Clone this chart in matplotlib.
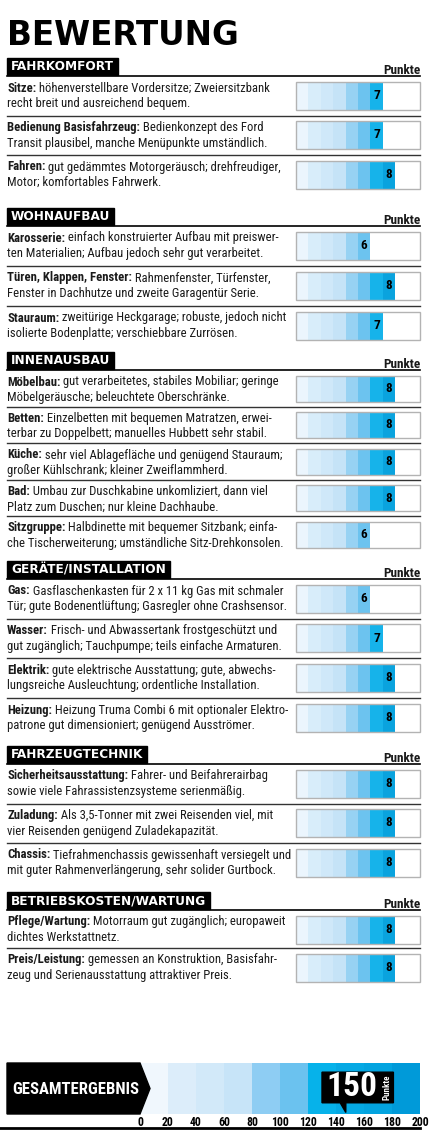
import matplotlib
matplotlib.use("Agg")
from matplotlib import pyplot as plt
from matplotlib import font_manager as fm
from matplotlib.patches import Rectangle, Polygon

# --- data ---
sections = ["FAHRKOMFORT", "WOHNAUFBAU", "INNENAUSBAU", "GERÄTE/INSTALLATION",
            "FAHRZEUGTECHNIK", "BETRIEBSKOSTEN/WARTUNG"]
section_rows = [3, 3, 5, 4, 3, 2]

labels = ["Sitze:", "Bedienung Basisfahrzeug:", "Fahren:",
          "Karosserie:", "Türen, Klappen, Fenster:", "Stauraum:",
          "Möbelbau:", "Betten:", "Küche:", "Bad:", "Sitzgruppe:",
          "Gas:", "Wasser:", "Elektrik:", "Heizung:",
          "Sicherheitsausstattung:", "Zuladung:", "Chassis:",
          "Pflege/Wartung:", "Preis/Leistung:"]

text_line1 = [" höhenverstellbare Vordersitze; Zweiersitzbank",
              " Bedienkonzept des Ford",
              " gut gedämmtes Motorgeräusch; drehfreudiger,",
              " einfach konstruierter Aufbau mit preiswer-",
              " Rahmenfenster, Türfenster,",
              " zweitürige Heckgarage; robuste, jedoch nicht",
              " gut verarbeitetes, stabiles Mobiliar; geringe",
              " Einzelbetten mit bequemen Matratzen, erwei-",
              " sehr viel Ablagefläche und genügend Stauraum;",
              " Umbau zur Duschkabine unkomliziert, dann viel",
              " Halbdinette mit bequemer Sitzbank; einfa-",
              " Gasflaschenkasten für 2 x 11 kg Gas mit schmaler",
              " Frisch- und Abwassertank frostgeschützt und",
              " gute elektrische Ausstattung; gute, abwechs-",
              " Heizung Truma Combi 6 mit optionaler Elektro-",
              " Fahrer- und Beifahrerairbag",
              " Als 3,5-Tonner mit zwei Reisenden viel, mit",
              " Tiefrahmenchassis gewissenhaft versiegelt und",
              " Motorraum gut zugänglich; europaweit",
              " gemessen an Konstruktion, Basisfahr-"]

text_line2 = ["recht breit und ausreichend bequem.",
              "Transit plausibel, manche Menüpunkte umständlich.",
              "Motor; komfortables Fahrwerk.",
              "ten Materialien; Aufbau jedoch sehr gut verarbeitet.",
              "Fenster in Dachhutze und zweite Garagentür Serie.",
              "isolierte Bodenplatte; verschiebbare Zurrösen.",
              "Möbelgeräusche; beleuchtete Oberschränke.",
              "terbar zu Doppelbett; manuelles Hubbett sehr stabil.",
              "großer Kühlschrank; kleiner Zweiflammherd.",
              "Platz zum Duschen; nur kleine Dachhaube.",
              "che Tischerweiterung; umständliche Sitz-Drehkonsolen.",
              "Tür; gute Bodenentlüftung; Gasregler ohne Crashsensor.",
              "gut zugänglich; Tauchpumpe; teils einfache Armaturen.",
              "lungsreiche Ausleuchtung; ordentliche Installation.",
              "patrone gut dimensioniert; genügend Ausströmer.",
              "sowie viele Fahrassistenzsysteme serienmäßig.",
              "vier Reisenden genügend Zuladekapazität.",
              "mit guter Rahmenverlängerung, sehr solider Gurtbock.",
              "dichtes Werkstattnetz.",
              "zeug und Serienausstattung attraktiver Preis."]

scores = [7, 7, 8, 6, 8, 7, 8, 8, 8, 8, 6, 6, 7, 8, 8, 8, 8, 8, 8, 8]
total_score = 150
total_ticks = [0, 20, 40, 60, 80, 100, 120, 140, 160, 180, 200]

seg_colors = ['#ebf5fd', '#d8edfa', '#cfe8f9', '#c5e3f7', '#97d2f3',
              '#6cc3ef', '#16b3ea', '#0aa3de', '#069fdb', '#0398d6']
total_colors = ['#f0f7fd', '#dcedfa', '#d2e9f9', '#c7e4f8', '#8ecdf3',
                '#6bc2ef', '#06b2ea', '#05a9e4', '#03a4e0', '#009ad9']

# --- layout (pixels) ---
section_top = [58, 208, 352, 561, 746, 892]
row_pitch = [39.5, 40, 36.5, 39.7, 39.5, 38]
bar_h = [28, 28, 26, 28, 28, 28]
X0, X1 = 7, 420
BAR_X, SEG_W = 296, 12.4

names = {f.name for f in fm.fontManager.ttflist}
narrow = next((n for n in ['Roboto Condensed', 'Liberation Sans Narrow', 'Open Sans Condensed']
               if n in names), None)
if narrow:
    body = dict(family=narrow)
else:
    body = dict(family='DejaVu Sans', stretch='condensed')
HEAVY = 'DejaVu Sans'
INK = '#1a1a1a'
FS = 9.1

fig = plt.figure(figsize=(4.33, 11.36), dpi=100)
ax = fig.add_axes([0, 0, 1, 1])
ax.set_xlim(0, 433)
ax.set_ylim(1136, 0)
ax.axis('off')
ax.set_zorder(3)
renderer = fig.canvas.get_renderer()

ax.text(7, 45, "BEWERTUNG", fontsize=23.5, family=HEAVY, weight='bold', va='baseline')

k = 0
for s, name in enumerate(sections):
    top = section_top[s]
    t = ax.text(11, top + 8.8, name, color='white', fontsize=8.7, family=HEAVY,
                weight='bold', va='center', zorder=3)
    w = t.get_window_extent(renderer).width
    ax.add_patch(Rectangle((X0, top), w + 8, 17, color='black', zorder=2))
    ax.plot([X0, X1], [top + 17.5] * 2, color='black', lw=1.2)
    ax.text(X1, top + 16, 'Punkte', ha='right', va='baseline', fontsize=9.5,
            weight='bold', color=INK, **body)
    for r in range(section_rows[s]):
        h = bar_h[s]
        bt = top + 23.5 + r * row_pitch[s]
        if r > 0:
            ax.plot([X0, X1], [bt - 5.5] * 2, color='#333333', lw=1)
        lb = ax.text(X0, bt + 6.5, labels[k], fontsize=FS, weight='bold',
                     color=INK, va='center', **body)
        ax.annotate(text_line1[k], xy=(1, 0), xycoords=lb, va='bottom', ha='left',
                    fontsize=FS, color=INK, **body)
        ax.text(X0, bt + 22, text_line2[k], fontsize=FS, color=INK, va='center', **body)

        n = scores[k]
        ax.barh([bt + h / 2] * n, [SEG_W] * n,
                left=[BAR_X + i * SEG_W for i in range(n)],
                height=h, color=seg_colors[:n], lw=0)
        ax.add_patch(Rectangle((BAR_X, bt), 10 * SEG_W, h, fill=False,
                               ec='#b3b3b3', lw=1))
        ax.text(BAR_X + (n - 0.5) * SEG_W, bt + h / 2, str(n), ha='center',
                va='center', fontsize=9.5, weight='bold', color='black', **body)
        k += 1

# --- total ---
tax = fig.add_axes([140 / 433, 1 - 1114 / 1136, 280 / 433, 51 / 1136])
tax.bar(total_ticks[:-1], [1] * 10, width=20, align='edge', color=total_colors, lw=0)
tax.set_xlim(0, 200)
tax.set_ylim(0, 1)
tax.set_yticks([])
tax.set_xticks(total_ticks)
tax.set_xticklabels([str(v) for v in total_ticks], fontsize=8.5, weight='bold', **body)
tax.tick_params(length=0, pad=1.5)
for sp in tax.spines.values():
    sp.set_visible(False)

ts = total_score
tax.add_patch(Polygon([(ts - 20, 0.22), (ts - 7, 0.22), (ts - 3, 0.03), (ts - 3, 0.22),
                       (ts + 31, 0.22), (ts + 31, 0.82), (ts - 20, 0.82)],
                      closed=True, color='black', zorder=3))
tax.text(ts + 1, 0.52, str(ts), color='white', fontsize=24, weight='bold',
         ha='center', va='center', zorder=4, **body)
tax.text(ts + 26.5, 0.52, 'Punkte', color='white', fontsize=6.5, weight='bold',
         rotation=90, ha='center', va='center', zorder=4, **body)

ax.add_patch(Polygon([(X0, 1063), (140, 1063), (150, 1088.5), (140, 1114), (X0, 1114)],
                     closed=True, color='black'))
ax.text(12, 1089, "GESAMTERGEBNIS", color='white', fontsize=12, weight='bold',
        va='center', **body)
ax.plot([0, X1], [1128, 1128], color='black', lw=2)

fig.savefig('out.png', dpi=100)
